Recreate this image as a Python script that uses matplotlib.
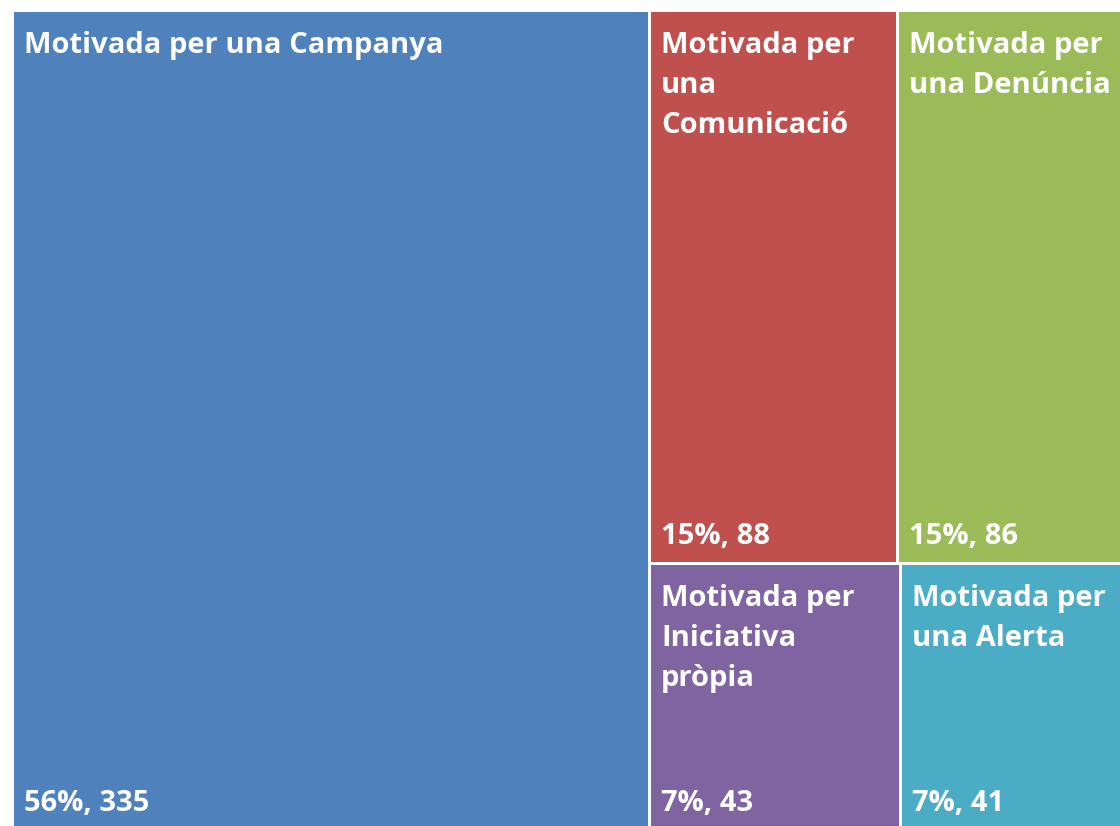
import matplotlib.pyplot as plt
from matplotlib.patches import Rectangle

plt.rcParams['font.family'] = ['Open Sans', 'DejaVu Sans']

labels = [['Motivada per una Campanya'],
          ['Motivada per', 'una', 'Comunicació'],
          ['Motivada per', 'una Denúncia'],
          ['Motivada per', 'Iniciativa', 'pròpia'],
          ['Motivada per', 'una Alerta']]
values = [335, 88, 86, 43, 41]
percents = ['56%', '15%', '15%', '7%', '7%']
colors = ['#4F81BD', '#C0504D', '#9BBB59', '#8064A2', '#4BACC6']

# treemap area in pixel coords (the picture is cropped at right and bottom)
X0, X1, Y0, Y1 = 12, 1140, 10, 830
GAP = 1.5

total = sum(values)
wb = (X1 - X0) * values[0] / total
rest = sum(values[1:])
top = values[1] + values[2]
bot = values[3] + values[4]
hx0 = X0 + wb
hw = X1 - hx0
ht = (Y1 - Y0) * top / rest
rects = [
    (X0, Y0, wb, Y1 - Y0),
    (hx0, Y0, hw * values[1] / top, ht),
    (hx0 + hw * values[1] / top, Y0, hw * values[2] / top, ht),
    (hx0, Y0 + ht, hw * values[3] / bot, Y1 - Y0 - ht),
    (hx0 + hw * values[3] / bot, Y0 + ht, hw * values[4] / bot, Y1 - Y0 - ht),
]

fig = plt.figure(figsize=(11.2, 8.26), dpi=100)
ax = fig.add_axes([0, 0, 1, 1])
ax.set_xlim(0, 1120)
ax.set_ylim(826, 0)
ax.axis('off')

fs = 21
for (x, y, w, h), lines, v, p, c in zip(rects, labels, values, percents, colors):
    ax.add_patch(Rectangle((x + GAP, y + GAP), w - 2 * GAP, h - 2 * GAP,
                           facecolor=c, edgecolor='none'))
    for i, line in enumerate(lines):
        ax.text(x + 12, y + 43 + 40 * i, line, color='white', fontsize=fs,
                fontweight='bold', va='baseline', ha='left')
    ax.text(x + 12, y + h - 19, f'{p}, {v}', color='white',
            fontsize=fs, fontweight='bold', va='baseline', ha='left')

fig.savefig('out.png', dpi=100)
